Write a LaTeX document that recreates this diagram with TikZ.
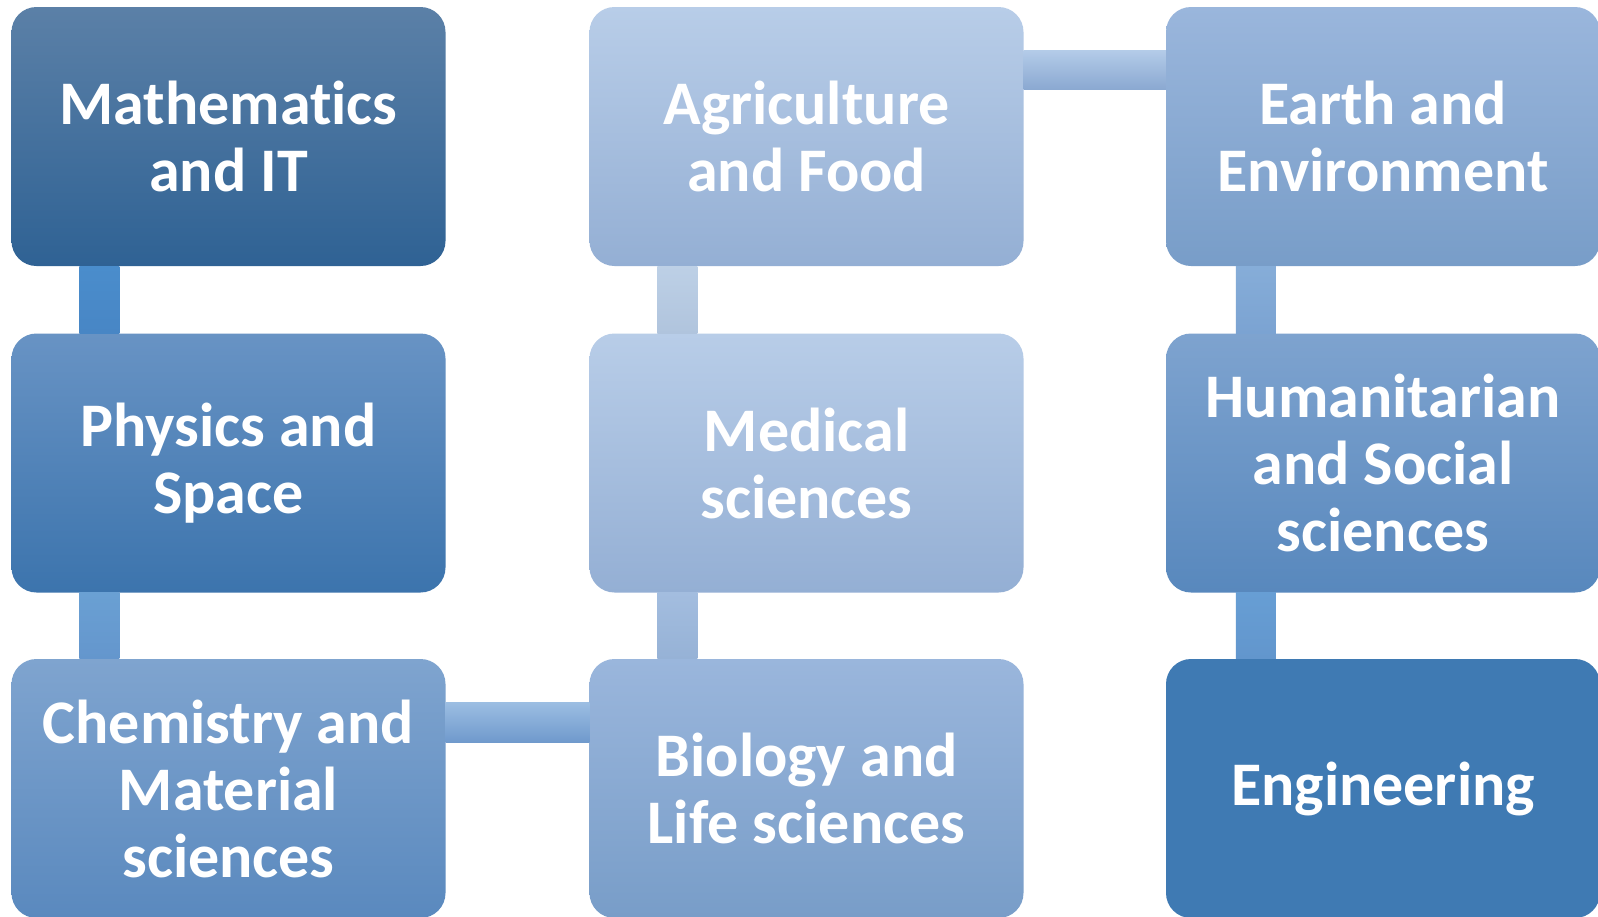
\documentclass[tikz,border=0pt]{standalone}
\usepackage{fontspec}
\setmainfont{Carlito}[Ligatures=CommonOff]
\usetikzlibrary{calc}
\definecolor{mathT}{HTML}{5B80A7}\definecolor{mathB}{HTML}{2F6294}
\definecolor{physT}{HTML}{6893C4}\definecolor{physM}{HTML}{4B88C2}\definecolor{physB}{HTML}{3C74AD}
\definecolor{chemT}{HTML}{7FA4CF}\definecolor{chemB}{HTML}{5A89BE}
\definecolor{agriT}{HTML}{B8CDE8}\definecolor{agriB}{HTML}{94AFD4}
\definecolor{bioT}{HTML}{9AB6DC}\definecolor{bioB}{HTML}{789DC8}
\definecolor{humT}{HTML}{7EA3CF}\definecolor{humB}{HTML}{5888BD}
\definecolor{engC}{HTML}{3F7AB3}
\definecolor{cMPt}{RGB}{74,141,204}\definecolor{cMPb}{RGB}{72,134,197}
\definecolor{cPCt}{RGB}{106,160,211}\definecolor{cPCb}{RGB}{100,150,205}
\definecolor{cAMt}{RGB}{189,208,230}\definecolor{cAMb}{RGB}{176,196,221}
\definecolor{cMBt}{RGB}{163,189,223}\definecolor{cMBb}{RGB}{150,178,214}
\definecolor{cEHt}{RGB}{134,173,216}\definecolor{cEHb}{RGB}{123,163,210}
\definecolor{cHGt}{RGB}{103,158,212}\definecolor{cHGb}{RGB}{98,150,205}
\definecolor{hAEt}{RGB}{179,203,232}\definecolor{hAEm}{RGB}{165,193,228}\definecolor{hAEb}{RGB}{138,168,209}
\definecolor{hCBt}{RGB}{155,189,226}\definecolor{hCBm}{RGB}{133,176,222}\definecolor{hCBb}{RGB}{111,153,204}
\tikzset{
  box/.style={rounded corners=25pt, minimum width=434pt, minimum height=259pt,
    inner sep=0pt, align=center, text=white,
    font=\fontsize{62}{67}\selectfont\bfseries},
}
\begin{document}
\begin{tikzpicture}[x=1pt,y=-1pt]
\useasboundingbox (0,0) rectangle (1598,916);
\clip (0,0) rectangle (1598,916);
\fill[white] (0,0) rectangle (1598,916);
% boxes
\node[box, top color=mathT, bottom color=mathB] (m) at (228.5,136.5) {Mathematics\\and IT};
\node[box, top color=physT, middle color=physM, bottom color=physB] (p) at (228.5,463) {Physics and\\Space};
\node[box, top color=chemT, bottom color=chemB] (c) at (228.5,788.5) {Chemistry and\\Material\\sciences};
\node[box, top color=agriT, bottom color=agriB] (a) at (806.5,136.5) {Agriculture\\and Food};
\node[box, top color=agriT, bottom color=agriB] (md) at (806.5,463) {Medical\\sciences};
\node[box, top color=bioT, bottom color=bioB] (b) at (806.5,788.5) {Biology and\\Life sciences};
\node[box, top color=bioT, bottom color=bioB] (e) at (1383,136.5) {Earth and\\Environment};
\node[box, top color=humT, bottom color=humB] (h) at (1383,463) {Humanitarian\\and Social\\sciences};
\node[box, fill=engC] (g) at (1383,788.5) {Engineering};
% connectors
\shade[top color=cMPt, bottom color=cMPb] ($(m.south west)+(68,0)$) rectangle ($(p.north west)+(108,0)$);
\shade[top color=cPCt, bottom color=cPCb] ($(p.south west)+(68,0)$) rectangle ($(c.north west)+(108,0)$);
\shade[top color=cAMt, bottom color=cAMb] ($(a.south west)+(68,0)$) rectangle ($(md.north west)+(108,0)$);
\shade[top color=cMBt, bottom color=cMBb] ($(md.south west)+(68,0)$) rectangle ($(b.north west)+(108,0)$);
\shade[top color=cEHt, bottom color=cEHb] ($(e.south west)+(70,0)$) rectangle ($(h.north west)+(110,0)$);
\shade[top color=cHGt, bottom color=cHGb] ($(h.south west)+(70,0)$) rectangle ($(g.north west)+(110,0)$);
\shade[top color=hAEt, middle color=hAEm, bottom color=hAEb] ($(a.north east)+(0,44)$) rectangle ($(e.north west)+(0,83)$);
\shade[top color=hCBt, middle color=hCBm, bottom color=hCBb] ($(c.north east)+(0,44)$) rectangle ($(b.north west)+(0,84)$);
\end{tikzpicture}
\end{document}
